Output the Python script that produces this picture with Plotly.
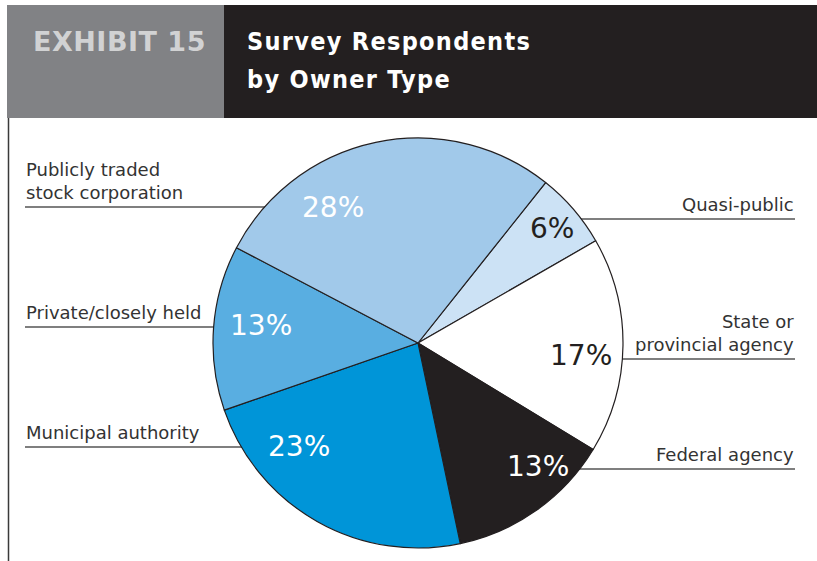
import math
import plotly.graph_objects as go

# Survey respondents by owner type (share of respondents, %), clockwise from Quasi-public
owner_types = [
    "Quasi-public",
    "State or<br>provincial agency",
    "Federal agency",
    "Municipal authority",
    "Private/closely held",
    "Publicly traded<br>stock corporation",
]
shares = [6, 17, 13, 23, 13, 28]

slice_colors = ["#cce2f5", "#ffffff", "#231f20", "#0095d8", "#59aee1", "#a1c9ea"]
pct_colors = ["#231f20", "#231f20", "#ffffff", "#ffffff", "#ffffff", "#ffffff"]
# where each percentage sits: (degrees clockwise from 12 o'clock, fraction of radius)
pct_pos = [(49.4, 0.86), (94.5, 0.80), (135.7, 0.84), (228.8, 0.77), (276.2, 0.77), (327.8, 0.78)]
# callout leader lines: (side, y pixel), and the text block above each
callout_side = ["right", "right", "right", "left", "left", "left"]
callout_y = [219, 359, 469, 447, 327, 207]

W, H = 817, 561
CX, CY, R = 418, 343, 205
START_ANGLE = 38.5

LABEL_FONT = "DejaVu Sans, Open Sans"
TITLE_FONT = "DejaVu Sans Condensed, DejaVu Sans"


def px(x):
    return x / W


def py(y):
    return 1 - y / H


def tracked(text, spacing):
    return f'<span style="letter-spacing:{spacing}px"><b>{text}</b></span>'


fig = go.Figure()

fig.add_trace(go.Pie(
    labels=[t.replace("<br>", " ") for t in owner_types],
    values=shares,
    sort=False,
    direction="clockwise",
    rotation=START_ANGLE,
    marker=dict(colors=slice_colors, line=dict(color="#231f20", width=1.2)),
    textinfo="none",
    hoverinfo="label+percent",
    showlegend=False,
    domain=dict(x=[px(CX - R), px(CX + R)], y=[py(CY + R), py(CY - R)]),
))

shapes = []
annotations = []

# header bands
shapes.append(dict(type="rect", xref="paper", yref="paper", x0=px(7), x1=px(224), y0=py(118), y1=py(5),
                   fillcolor="#818285", line=dict(width=0), layer="below"))
shapes.append(dict(type="rect", xref="paper", yref="paper", x0=px(224), x1=px(817), y0=py(118), y1=py(5),
                   fillcolor="#231f20", line=dict(width=0), layer="below"))
# left rule under the header
shapes.append(dict(type="line", xref="paper", yref="paper", x0=px(8.5), x1=px(8.5), y0=py(118), y1=py(561),
                   line=dict(color="#3a3a3a", width=1.5), layer="below"))

annotations.append(dict(text=tracked("EXHIBIT 15", 0.5), xref="paper", yref="paper", x=px(31), y=py(41),
                        xanchor="left", yanchor="middle", showarrow=False,
                        font=dict(family="DejaVu Sans", size=27, color="#d1d2d3")))
annotations.append(dict(text=tracked("Survey Respondents", 1.3), xref="paper", yref="paper", x=px(245), y=py(42),
                        xanchor="left", yanchor="middle", showarrow=False,
                        font=dict(family=TITLE_FONT, size=25, color="#ffffff")))
annotations.append(dict(text=tracked("by Owner Type", 1.3), xref="paper", yref="paper", x=px(245), y=py(80),
                        xanchor="left", yanchor="middle", showarrow=False,
                        font=dict(family=TITLE_FONT, size=25, color="#ffffff")))

# callouts: leader line from the text margin in to the pie (the pie covers the inner end)
for name, side, ly in zip(owner_types, callout_side, callout_y):
    if side == "left":
        x0, x1, tx, anchor = px(25), px(CX), px(24), "left"
    else:
        x0, x1, tx, anchor = px(CX), px(795), px(796), "right"
    shapes.append(dict(type="line", xref="paper", yref="paper", x0=x0, x1=x1, y0=py(ly), y1=py(ly),
                       line=dict(color="#555555", width=1.3), layer="below"))
    annotations.append(dict(text=name, xref="paper", yref="paper", x=tx, y=py(ly - 2),
                            xanchor=anchor, yanchor="bottom", align=anchor, showarrow=False,
                            font=dict(family=LABEL_FONT, size=18, color="#333333")))

# percentage labels inside the slices
for v, col, (ang, rf) in zip(shares, pct_colors, pct_pos):
    a = math.radians(ang)
    x = CX + rf * R * math.sin(a)
    y = CY - rf * R * math.cos(a)
    annotations.append(dict(text=f"{v}%", xref="paper", yref="paper", x=px(x), y=py(y),
                            xanchor="center", yanchor="middle", showarrow=False,
                            font=dict(family=LABEL_FONT, size=28, color=col)))

fig.update_layout(
    width=W, height=H, autosize=False,
    margin=dict(l=0, r=0, t=0, b=0),
    paper_bgcolor="#ffffff", plot_bgcolor="#ffffff",
    shapes=shapes, annotations=annotations,
)

fig.write_html("out.html")
